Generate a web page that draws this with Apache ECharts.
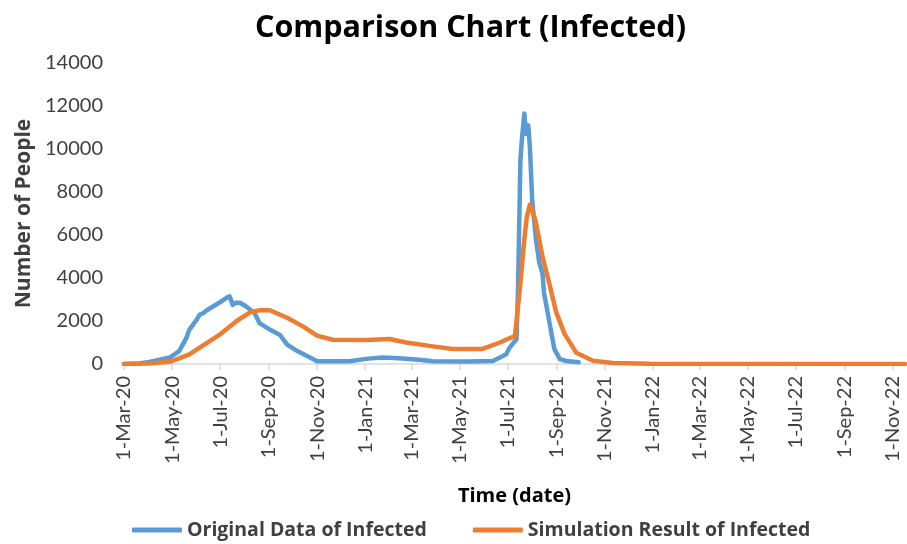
<!DOCTYPE html>
<html>
<head>
<meta charset="utf-8">
<script src="https://cdn.jsdelivr.net/npm/echarts@6/dist/echarts.min.js"></script>
<style>
html,body{margin:0;padding:0;background:#fff;}
#chart{width:907px;height:544px;}
</style>
</head>
<body>
<div id="chart"></div>
<script>
// ---- Data ----
const tickDates = ['2020-03-01','2020-05-01','2020-07-01','2020-09-01','2020-11-01','2021-01-01','2021-03-01','2021-05-01','2021-07-01','2021-09-01','2021-11-01','2022-01-01','2022-03-01','2022-05-01','2022-07-01','2022-09-01','2022-11-01'];
const tickLabels = ['1-Mar-20','1-May-20','1-Jul-20','1-Sep-20','1-Nov-20','1-Jan-21','1-Mar-21','1-May-21','1-Jul-21','1-Sep-21','1-Nov-21','1-Jan-22','1-Mar-22','1-May-22','1-Jul-22','1-Sep-22','1-Nov-22'];
const yTicks = [0,2000,4000,6000,8000,10000,12000,14000];

const origDates = ['2020-03-01','2020-03-20','2020-04-02','2020-04-15','2020-04-28','2020-05-10','2020-05-19','2020-05-23','2020-06-01','2020-06-05','2020-06-09','2020-06-14','2020-06-21','2020-07-04','2020-07-10','2020-07-13','2020-07-17','2020-07-21','2020-07-26','2020-08-04','2020-08-14','2020-08-20','2020-09-02','2020-09-15','2020-09-24','2020-10-07','2020-10-23','2020-11-01','2020-12-12','2021-01-05','2021-01-23','2021-02-13','2021-03-10','2021-03-28','2021-05-10','2021-06-12','2021-06-21','2021-06-29','2021-07-03','2021-07-12','2021-07-14','2021-07-17','2021-07-19','2021-07-22','2021-07-24','2021-07-27','2021-07-29','2021-08-01','2021-08-06','2021-08-10','2021-08-14','2021-08-16','2021-08-23','2021-08-29','2021-09-05','2021-09-13','2021-09-29'];
const origValues = [0,20,100,200,300,600,1200,1600,2050,2300,2350,2500,2650,2950,3100,3150,2750,2850,2850,2650,2350,1900,1600,1350,900,600,300,130,130,250,300,270,200,130,120,140,300,450,750,1150,3500,9500,10500,11650,10700,11100,10100,7600,5700,4700,4200,3300,1900,700,230,140,80];

const simDates = ['2020-03-01','2020-04-01','2020-04-28','2020-05-10','2020-05-23','2020-06-09','2020-07-01','2020-07-22','2020-08-08','2020-08-20','2020-09-02','2020-09-24','2020-10-14','2020-11-01','2020-11-21','2021-01-03','2021-02-01','2021-02-22','2021-03-28','2021-04-22','2021-05-30','2021-06-21','2021-06-30','2021-07-10','2021-07-16','2021-07-22','2021-07-25','2021-07-29','2021-08-05','2021-08-14','2021-08-23','2021-08-31','2021-09-11','2021-09-26','2021-10-17','2021-11-11','2021-12-28','2022-11-17'];
const simValues = [0,20,100,260,450,850,1380,2000,2400,2500,2500,2150,1750,1320,1130,1120,1160,1000,820,700,700,1000,1150,1300,3400,5800,6800,7420,6700,5000,3700,2450,1400,520,150,50,10,0];

const FONT = 'Lato';
const BOLD = 'Open Sans';
const toTs = s => { const p = s.split('-'); return Date.UTC(+p[0], +p[1]-1, +p[2]); };
const tickTs = tickDates.map(toTs);

const chart = echarts.init(document.getElementById('chart'));
chart.setOption({
  animation: false,
  backgroundColor: '#fff',
  textStyle: { fontFamily: FONT },
  title: {
    text: 'Comparison Chart (Infected)',
    left: 250, top: 8,
    textStyle: { fontFamily: BOLD, fontSize: 30.5, fontWeight: 'bold', color: '#000' }
  },
  legend: {
    left: 127, top: 515,
    icon: 'roundRect',
    itemWidth: 50, itemHeight: 5, itemGap: 46,
    textStyle: { fontFamily: BOLD, fontSize: 19.5, fontWeight: 'bold', color: '#404040' },
    data: ['Original Data of Infected', 'Simulation Result of Infected']
  },
  grid: { left: 124, right: 2, top: 63, bottom: 180 },
  xAxis: {
    type: 'value',
    min: toTs('2020-03-01'),
    max: toTs('2022-11-17'),
    name: 'Time (date)',
    nameLocation: 'middle',
    nameGap: 122,
    nameTextStyle: { fontFamily: BOLD, fontSize: 20, fontWeight: 'bold', color: '#000' },
    axisLine: { show: true, lineStyle: { color: '#d9d9d9', width: 1.5 } },
    axisTick: { show: true, customValues: tickTs, length: 6, lineStyle: { color: '#d9d9d9', width: 1.5 } },
    axisLabel: {
      customValues: tickTs,
      rotate: 90,
      margin: 12,
      hideOverlap: false,
      fontFamily: FONT, fontSize: 20, color: '#404040',
      formatter: function (v) {
        const i = tickTs.indexOf(v);
        return i >= 0 ? tickLabels[i] : '';
      }
    },
    splitLine: { show: false }
  },
  yAxis: {
    type: 'value',
    min: yTicks[0], max: yTicks[yTicks.length-1], interval: 2000,
    name: 'Number of People',
    nameLocation: 'middle',
    nameGap: 89,
    nameRotate: 90,
    nameTextStyle: { fontFamily: BOLD, fontSize: 21, fontWeight: 'bold', color: '#404040' },
    axisLine: { show: false },
    axisTick: { show: false },
    splitLine: { show: false },
    axisLabel: { margin: 21, fontFamily: FONT, fontSize: 20, color: '#404040', formatter: v => String(v) }
  },
  series: [
    {
      name: 'Original Data of Infected',
      type: 'line',
      symbol: 'none',
      color: '#5B9BD5',
      lineStyle: { width: 4.5, color: '#5B9BD5', cap: 'round', join: 'round' },
      data: origDates.map((d, i) => [toTs(d), origValues[i]])
    },
    {
      name: 'Simulation Result of Infected',
      type: 'line',
      symbol: 'none',
      color: '#ED7D31',
      lineStyle: { width: 4.5, color: '#ED7D31', cap: 'round', join: 'round' },
      data: simDates.map((d, i) => [toTs(d), simValues[i]])
    }
  ]
});
</script>
</body>
</html>
